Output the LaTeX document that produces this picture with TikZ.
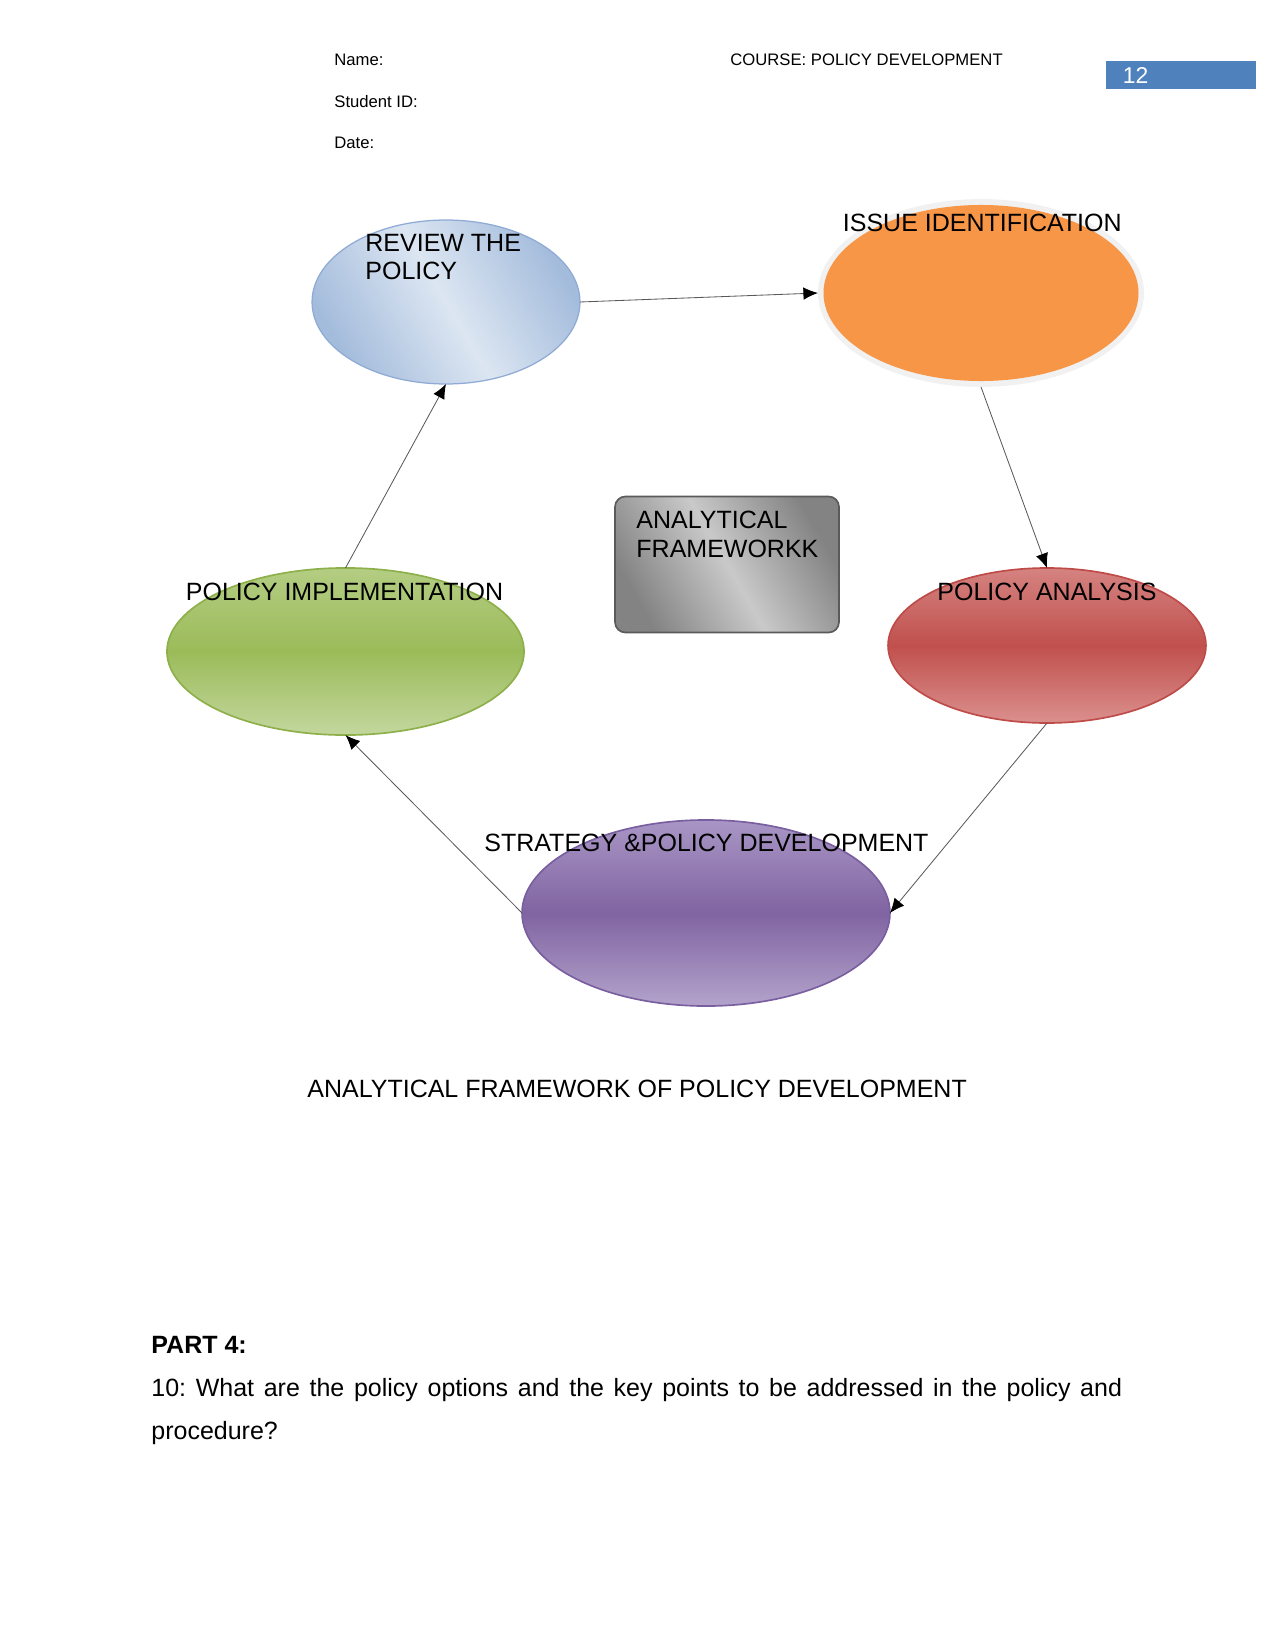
\documentclass[tikz,border=0pt]{standalone}
\usepackage{fontspec}
\setmainfont{Liberation Sans}
\usetikzlibrary{shapes.geometric,arrows.meta}
\definecolor{blueE}{HTML}{A4BCDC}
\definecolor{blueM}{HTML}{DCE6F2}
\definecolor{blueD}{HTML}{8FAAD4}
\definecolor{orangeF}{HTML}{F79646}
\definecolor{haloC}{HTML}{F1F1F1}
\definecolor{greenT}{HTML}{B4CD83}
\definecolor{greenM}{HTML}{9BBB59}
\definecolor{greenB}{HTML}{C3D79E}
\definecolor{greenD}{HTML}{8DB04A}
\definecolor{redT}{HTML}{D58381}
\definecolor{redM}{HTML}{C0504D}
\definecolor{redB}{HTML}{DB908E}
\definecolor{redD}{HTML}{BE4B48}
\definecolor{purT}{HTML}{A996C5}
\definecolor{purM}{HTML}{8064A2}
\definecolor{purB}{HTML}{B3A3CB}
\definecolor{purD}{HTML}{7A5FA0}
\definecolor{grayE}{HTML}{838383}
\definecolor{grayM}{HTML}{C9C9C9}
\definecolor{grayD}{HTML}{5A5A5A}
\definecolor{pgblue}{HTML}{4F81BD}
\tikzset{
  oval/.style={ellipse, inner sep=0pt, outer sep=0pt, line width=0.8pt},
  lbl/.style={font=\fontsize{12}{13.9}\selectfont, inner sep=0pt, anchor=base west, align=left},
  hdr/.style={font=\fontsize{8}{9.6}\selectfont, inner sep=0pt, anchor=base west},
  conn/.style={-{Latex[length=7pt,width=6pt,color=black]}, line width=0.4pt, draw=black!65},
}
\begin{document}
\begin{tikzpicture}[x=0.48pt,y=-0.48pt]
\useasboundingbox (0,0) rectangle (1275,1651);
% header
\node[hdr] (name) at (334,66) {Name:};
\node[hdr] (sid) at (334,107.5) {Student ID:};
\node[hdr] (date) at (334,149) {Date:};
\node[hdr] (course) at (730,66) {COURSE: POLICY DEVELOPMENT};
\node[fill=pgblue, anchor=north west, inner sep=0pt, minimum width=71.8pt, minimum height=13.4pt] (pg) at (1106,61) {};
\node[font=\fontsize{11}{13}\selectfont, text=white, inner sep=0pt, anchor=base west] (pgnum) at (1122.5,83.3) {12};
% shapes
\node[oval, minimum width=128.6pt, minimum height=78.7pt, draw=blueD, line width=0.6pt, left color=blueE, right color=blueE, middle color=blueM, shading angle=-60] (rev) at (446,302) {};
\node[oval, minimum width=156.5pt, minimum height=90.2pt, fill=haloC] (isshalo) at (981,293) {};
\node[oval, minimum width=151.2pt, minimum height=84.5pt, fill=orangeF] (iss) at (981,293) {};
\node[oval, minimum width=171.4pt, minimum height=80.2pt, draw=greenD, top color=greenT, bottom color=greenB, middle color=greenM] (imp) at (345.5,651.5) {};
\node[oval, minimum width=152.6pt, minimum height=74.4pt, draw=redD, top color=redT, bottom color=redB, middle color=redM] (ana) at (1047,645.5) {};
\node[oval, minimum width=176.6pt, minimum height=89.3pt, draw=purD, top color=purT, bottom color=purB, middle color=purM] (str) at (706,913) {};
\node[rectangle, rounded corners=5pt, inner sep=0pt, minimum width=107.5pt, minimum height=65.3pt, draw=grayD, line width=0.8pt, left color=grayE, right color=grayE, middle color=grayM, shading angle=-60] (frame) at (727,564.5) {};
% connectors
\draw[conn] (rev.east) -- (isshalo.west);
\draw[conn] (isshalo.south) -- (ana.north);
\draw[conn] (ana.south) -- (str.east);
\draw[conn] (str.west) -- (imp.south);
\draw[conn] (imp.north) -- (rev.south);
% labels
\node[lbl] (revl) at (365,280) {REVIEW THE\\POLICY};
\node[lbl] (issl) at (842.5,232) {ISSUE IDENTIFICATION};
\node[lbl] (impl) at (185.5,600) {POLICY IMPLEMENTATION};
\node[lbl] (anal) at (937,600) {POLICY ANALYSIS};
\node[lbl] (strl) at (484,851) {STRATEGY \&POLICY DEVELOPMENT};
\node[lbl] (framel) at (636,557) {ANALYTICAL\\FRAMEWORKK};
\node[lbl] (cap) at (307,1097) {ANALYTICAL FRAMEWORK OF POLICY DEVELOPMENT};
\node[lbl, font=\fontsize{12}{20.6}\selectfont\frenchspacing] (body) at (151,1439) {\textbf{PART 4:}\\\makebox[465.9pt][s]{10: What are the policy options and the key points to be addressed in the policy and}\\procedure?};
\end{tikzpicture}
\end{document}
